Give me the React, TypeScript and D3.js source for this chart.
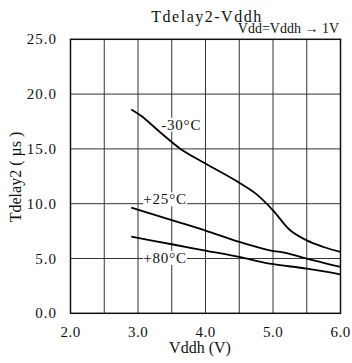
import React from "react";
import * as d3 from "d3";

const xTicks = [2.0, 3.0, 4.0, 5.0, 6.0];
const yTicks = [0, 5, 10, 15, 20, 25];
const xGrid = [2.5, 3.0, 3.5, 4.0, 4.5, 5.0, 5.5];
const yGrid = [5, 10, 15, 20];

const vddM30 = [2.9, 3.05, 3.35, 3.63, 4.0, 4.5, 4.75, 5.0, 5.25, 5.5, 5.75, 6.0];
const tM30 = [18.6, 18.0, 16.4, 15.0, 13.66, 11.92, 10.9, 9.4, 7.6, 6.65, 6.05, 5.6];

const vddP25 = [2.9, 3.5, 4.0, 4.5, 4.95, 5.2, 5.5, 6.0];
const tP25 = [9.64, 8.5, 7.55, 6.51, 5.75, 5.5, 4.99, 4.23];

const vddP80 = [2.9, 3.5, 4.0, 4.5, 4.95, 5.5, 6.0];
const tP80 = [7.0, 6.3, 5.72, 5.14, 4.53, 4.08, 3.56];

const seriesLabels = ["-30°C", "+25°C", "+80°C"];
const labelVdd = [3.64, 3.4, 3.4];
const labelT = [16.75, 9.95, 4.6];

const W = 352;
const H = 363;
const left = 70.5, right = 340.5, top = 39.3, bottom = 313.3;

export default function App() {
  const x = d3.scaleLinear().domain([2, 6]).range([left, right]);
  const y = d3.scaleLinear().domain([0, 25]).range([bottom, top]);
  const line = d3
    .line<[number, number]>()
    .x((d) => x(d[0]))
    .y((d) => y(d[1]))
    .curve(d3.curveCatmullRom.alpha(0.5));
  const series = [
    d3.zip(vddM30, tM30) as [number, number][],
    d3.zip(vddP25, tP25) as [number, number][],
    d3.zip(vddP80, tP80) as [number, number][],
  ];
  const ts: React.CSSProperties = { fontFamily: "'Times New Roman', 'Liberation Serif', Times, serif" };
  return (
    <svg
      width={W}
      height={H}
      style={{ position: "absolute", left: 0, top: 0, background: "#fff" }}
    >
      <rect x={0} y={0} width={W} height={H} fill="#fff" />
      {xGrid.map((v) => (
        <line key={"gx" + v} x1={x(v)} x2={x(v)} y1={top} y2={bottom} stroke="#333" strokeWidth={1} />
      ))}
      {yGrid.map((v) => (
        <line key={"gy" + v} x1={left} x2={right} y1={y(v)} y2={y(v)} stroke="#333" strokeWidth={1} />
      ))}
      <rect x={left} y={top} width={right - left} height={bottom - top} fill="none" stroke="#111" strokeWidth={1.5} />
      {seriesLabels.map((s, i) => (
        <g key={s}>
          <rect x={x(labelVdd[i]) - 22} y={y(labelT[i]) - 12} width={44} height={14} fill="#fff" />
          <text style={ts} x={x(labelVdd[i])} y={y(labelT[i])} fontSize={15} textAnchor="middle" letterSpacing={0.8} fill="#111">
            {s}
          </text>
        </g>
      ))}
      {series.map((d, i) => (
        <path key={i} d={line(d) || ""} fill="none" stroke="#000" strokeWidth={1.8} />
      ))}
      {yTicks.map((v) => (
        <text style={ts} key={"yt" + v} x={57} y={y(v) + 5} fontSize={15} textAnchor="end" letterSpacing={1} fill="#111">
          {v.toFixed(1)}
        </text>
      ))}
      {xTicks.map((v) => (
        <text style={ts} key={"xt" + v} x={x(v)} y={337} fontSize={15} textAnchor="middle" letterSpacing={0.5} fill="#111">
          {v.toFixed(1)}
        </text>
      ))}
      <text style={ts} x={200} y={353} fontSize={16} textAnchor="middle" fill="#111">
        Vddh (V)
      </text>
      <text
        style={ts}
        transform={`translate(21,177) rotate(-90)`}
        fontSize={16}
        textAnchor="middle"
        fill="#111"
      >
        Tdelay2 ( µs )
      </text>
      <text style={ts} x={207} y={22} fontSize={16} textAnchor="middle" letterSpacing={1.5} fill="#111">
        Tdelay2-Vddh
      </text>
      <text style={ts} x={339} y={33} fontSize={14} textAnchor="end" fill="#111">
        Vdd=Vddh → 1V
      </text>
    </svg>
  );
}
